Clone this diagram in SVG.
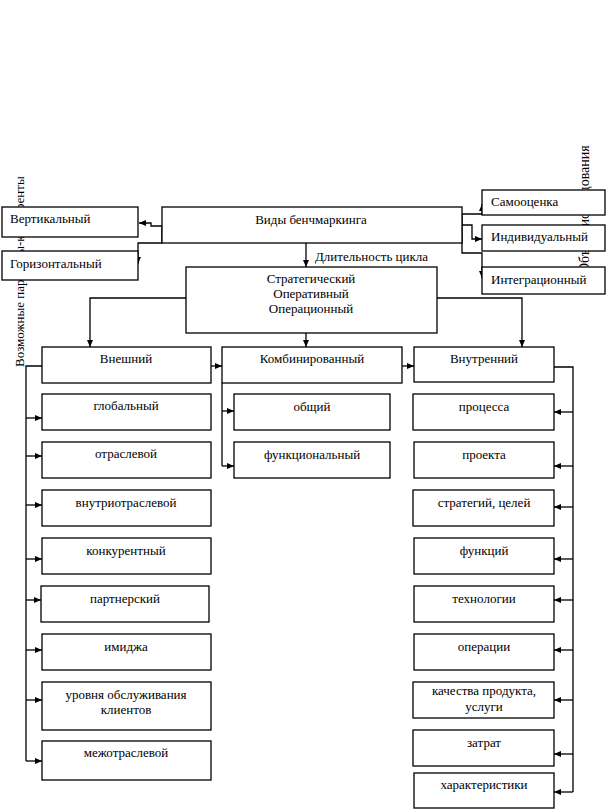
<svg xmlns="http://www.w3.org/2000/svg" width="606" height="810" viewBox="0 0 606 810">
<style>
text{font-family:"Liberation Serif","Times New Roman",serif;font-size:13px;fill:#000}
.c{text-anchor:middle}
.box{fill:#fff;stroke:#000;stroke-width:1.3}
.ln{fill:none;stroke:#000;stroke-width:1.3}
.ar{fill:none;stroke:#000;stroke-width:1.3;marker-end:url(#ah)}
</style>
<defs>
<marker id="ah" markerUnits="userSpaceOnUse" markerWidth="8" markerHeight="7" refX="7" refY="3" orient="auto">
<path d="M0,0 L7,3 L0,6 z" fill="#000"/>
</marker>
</defs>
<rect x="0" y="0" width="606" height="810" fill="#fff"/>
<g id="side-labels">
<text transform="translate(24,367) rotate(-90)" style="font-size:13px">Возможные партнеры-конкуренты</text>
<text transform="translate(589,273) rotate(-90)" style="font-size:14px">Объект исследования</text>
</g>
<g id="connectors">
<path class="ar" d="M162,226 L151,226 L151,223 L139,223"/>
<path class="ar" d="M162,226 L162,243 L138,243 L138,264"/>
<path class="ar" d="M462,214 L482,214 L482,204"/>
<path class="ar" d="M462,225 L472,225 L472,239 L482,239"/>
<path class="ar" d="M462,214 L462,253 L482,253 L482,278"/>
<path class="ar" d="M306,243 L306,267"/>
<text x="315" y="261">Длительность цикла</text>
<path class="ar" d="M186,298 L90,298 L90,347"/>
<path class="ar" d="M437,298 L522,298 L522,347"/>
<path class="ar" d="M306,333 L306,347"/>
<path class="ar" d="M211,366 L222,366"/>
<path class="ar" d="M402,366 L414,366"/>
<path class="ln" d="M42,366 L26,366 L26,761"/>
<path class="ar" d="M26,418 L42,418"/>
<path class="ar" d="M26,456 L42,456"/>
<path class="ar" d="M26,505 L42,505"/>
<path class="ar" d="M26,559 L42,559"/>
<path class="ar" d="M26,600 L41,600"/>
<path class="ar" d="M26,650 L42,650"/>
<path class="ar" d="M26,700 L42,700"/>
<path class="ar" d="M26,761 L42,761"/>
<path class="ln" d="M222,383 L222,466"/>
<path class="ar" d="M222,411 L234,411"/>
<path class="ar" d="M222,466 L234,466"/>
<path class="ln" d="M554,367 L573,367 L573,792"/>
<path class="ar" d="M573,412 L554,412"/>
<path class="ar" d="M573,466 L554,466"/>
<path class="ar" d="M573,507 L554,507"/>
<path class="ar" d="M573,559 L554,559"/>
<path class="ar" d="M573,600 L554,600"/>
<path class="ar" d="M573,650 L554,650"/>
<path class="ar" d="M573,700 L554,700"/>
<path class="ar" d="M573,754 L554,754"/>
<path class="ar" d="M573,792 L554,792"/>
</g>
<g id="n-vertical"><rect class="box" x="2" y="207" width="136" height="30"/><text x="10" y="223">Вертикальный</text></g>
<g id="n-horizontal"><rect class="box" x="2" y="251" width="136" height="29"/><text x="10" y="268">Горизонтальный</text></g>
<g id="n-types"><rect class="box" x="162" y="207" width="300" height="36"/><text class="c" x="311" y="224">Виды бенчмаркинга</text></g>
<g id="n-self"><rect class="box" x="482" y="190" width="123" height="25"/><text x="491" y="206">Самооценка</text></g>
<g id="n-individual"><rect class="box" x="482" y="225" width="123" height="26"/><text x="491" y="241">Индивидуальный</text></g>
<g id="n-integration"><rect class="box" x="482" y="267" width="123" height="27"/><text x="491" y="284">Интеграционный</text></g>
<g id="n-duration"><rect class="box" x="186" y="267" width="251" height="66"/>
<text class="c" x="311" y="283">Стратегический</text>
<text class="c" x="311" y="298">Оперативный</text>
<text class="c" x="311" y="313">Операционный</text></g>
<g id="n-external"><rect class="box" x="42" y="347" width="169" height="36"/><text class="c" x="126" y="363">Внешний</text></g>
<g id="n-combined"><rect class="box" x="222" y="347" width="180" height="36"/><text class="c" x="312" y="363">Комбинированный</text></g>
<g id="n-internal"><rect class="box" x="414" y="347" width="140" height="35"/><text class="c" x="484" y="363">Внутренний</text></g>
<g id="n-general"><rect class="box" x="234" y="394" width="156" height="36"/><text class="c" x="312" y="411">общий</text></g>
<g id="n-functional"><rect class="box" x="234" y="442" width="156" height="36"/><text class="c" x="312" y="459">функциональный</text></g>
<g id="n-global"><rect class="box" x="42" y="394" width="169" height="36"/><text class="c" x="126" y="410">глобальный</text></g>
<g id="n-branch"><rect class="box" x="42" y="442" width="169" height="36"/><text class="c" x="126" y="458">отраслевой</text></g>
<g id="n-intrabranch"><rect class="box" x="42" y="490" width="169" height="36"/><text class="c" x="126" y="507">внутриотраслевой</text></g>
<g id="n-competitive"><rect class="box" x="42" y="538" width="169" height="36"/><text class="c" x="126" y="555">конкурентный</text></g>
<g id="n-partner"><rect class="box" x="41" y="586" width="168" height="36"/><text class="c" x="125" y="603">партнерский</text></g>
<g id="n-image"><rect class="box" x="42" y="634" width="169" height="36"/><text class="c" x="126" y="651">имиджа</text></g>
<g id="n-service"><rect class="box" x="42" y="682" width="169" height="48"/><text class="c" x="126" y="699">уровня обслуживания</text><text class="c" x="126" y="714">клиентов</text></g>
<g id="n-interbranch"><rect class="box" x="42" y="741" width="169" height="39"/><text class="c" x="126" y="757">межотраслевой</text></g>
<g id="n-process"><rect class="box" x="413" y="394" width="141" height="36"/><text class="c" x="484" y="411">процесса</text></g>
<g id="n-project"><rect class="box" x="414" y="442" width="140" height="36"/><text class="c" x="484" y="459">проекта</text></g>
<g id="n-strategy"><rect class="box" x="413" y="490" width="141" height="36"/><text class="c" x="484" y="507">стратегий, целей</text></g>
<g id="n-functions"><rect class="box" x="414" y="538" width="140" height="36"/><text class="c" x="484" y="555">функций</text></g>
<g id="n-technology"><rect class="box" x="414" y="586" width="140" height="36"/><text class="c" x="484" y="603">технологии</text></g>
<g id="n-operations"><rect class="box" x="414" y="634" width="140" height="36"/><text class="c" x="484" y="651">операции</text></g>
<g id="n-quality"><rect class="box" x="413" y="682" width="141" height="36"/><text class="c" x="484" y="695">качества продукта,</text><text class="c" x="484" y="711">услуги</text></g>
<g id="n-costs"><rect class="box" x="413" y="730" width="141" height="36"/><text class="c" x="484" y="747">затрат</text></g>
<g id="n-characteristics"><rect class="box" x="414" y="773" width="140" height="35"/><text class="c" x="484" y="789">характеристики</text></g>
</svg>
